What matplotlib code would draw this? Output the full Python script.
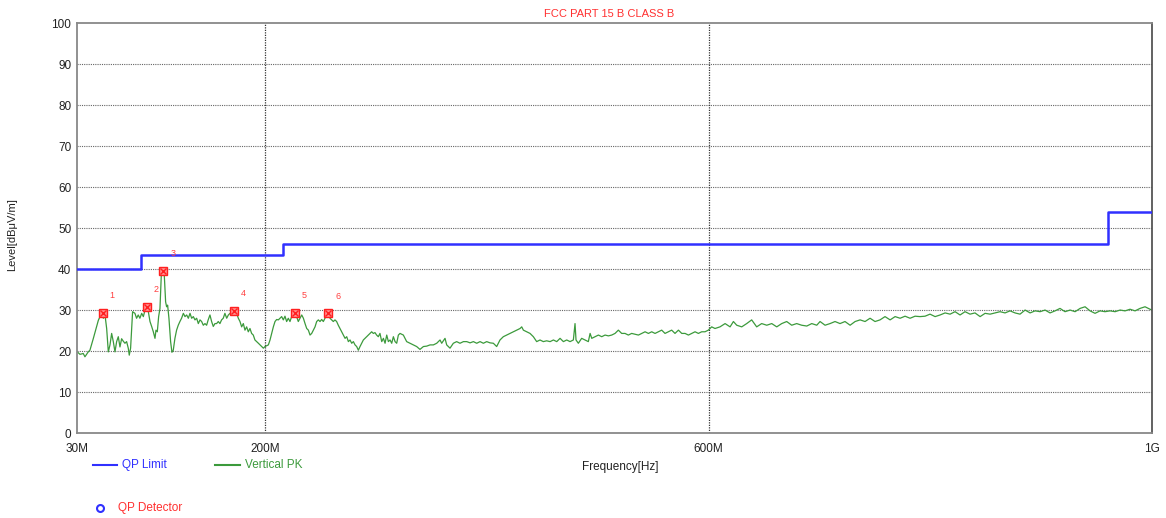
import numpy as np
import matplotlib
matplotlib.use("Agg")
from matplotlib import pyplot as plt
from matplotlib.lines import Line2D

plt.rcParams['font.family'] = ['Liberation Sans', 'DejaVu Sans']

### Datos (MHz, dBuV/m) ###
limit_freq = [30, 88, 88, 216, 216, 960, 960, 1000]
limit_level = [40, 40, 43.5, 43.5, 46, 46, 54, 54]

pk_freq = [30.3, 32.7, 35.7, 37.2, 40.2, 41.7, 44.7, 47.7, 49.3, 50.8, 52.3, 53.8,
           55.3, 56.8, 58.3, 59.8, 61.3, 62.8, 64.3, 65.8, 67.3, 68.8, 70.3, 71.8,
           73.3, 74.8, 76.3, 77.2, 78.4, 80.2, 82.3, 83.8, 85.3, 86.8, 88.4, 89.9,
           91.4, 92.9, 94.4, 95.9, 97.4, 98.9, 100.4, 101.3, 102.5, 103.7, 104.9,
           106.1, 107.3, 108.8, 110.0, 110.9, 111.8, 113.0, 114.5, 115.7, 116.9,
           118.4, 119.9, 121.4, 122.9, 124.4, 126.0, 127.5, 129.0, 130.5, 132.0,
           133.5, 135.0, 136.5, 138.0, 139.5, 141.0, 142.5, 144.0, 145.5, 147.0,
           148.4, 150.0, 151.5, 153.0, 154.5, 156.0, 157.5, 159.0, 160.5, 162.0,
           163.5, 165.1, 166.6, 168.1, 171.1,
           172.6, 174.1, 175.6, 177.1, 178.6, 180.1, 181.6, 183.1, 184.6, 186.1,
           187.6, 189.1, 190.6, 192.2, 193.7, 195.2, 196.7, 198.2, 199.7, 201.2,
           202.7, 204.2, 205.7, 207.2, 208.7, 210.2, 211.7, 213.2, 214.7, 216.2,
           217.7, 219.2, 220.7, 222.2, 223.7, 225.2, 226.7, 228.2, 229.7, 231.3,
           232.8, 234.3, 235.8, 237.3, 238.8, 240.3, 241.8, 243.3, 244.8, 246.3,
           247.8, 249.3, 250.8, 252.3, 253.8, 255.3, 256.8, 258.3, 259.8, 261.3,
           262.8, 264.3, 265.8, 267.3, 268.9, 270.4, 271.9, 273.4, 274.9, 276.4,
           277.9, 279.4, 280.9, 282.4, 283.9, 285.4, 286.9, 288.4, 289.9, 291.4,
           292.9, 294.4, 295.9, 297.4, 298.9, 300.4, 301.9, 303.4, 305.0, 306.5,
           308.0, 309.5, 311.0, 312.5, 314.0, 315.5, 317.0, 318.5, 320.0,
           321.5, 324.5, 326.0, 327.5, 330.5, 333.5, 336.5, 339.5, 342.6, 345.6,
           348.6, 351.6, 354.6, 357.6, 359.1, 362.1, 363.6, 366.6, 369.6, 372.6,
           375.6, 378.7, 381.7, 384.7, 387.7, 390.7, 393.7, 396.7, 399.7, 402.7,
           405.7, 408.7, 411.7, 414.7, 417.7, 420.8, 423.8, 426.8, 429.8, 431.3,
           432.8, 435.8, 438.8, 441.8, 444.8, 447.8, 450.8, 453.8, 456.9, 459.9,
           462.9, 465.9, 468.9, 471.9, 474.9, 477.9, 479.4, 480.3, 482.4, 485.4,
           488.4, 491.4, 493.0, 494.5, 497.5, 500.5, 503.5, 506.5, 509.5, 512.5,
           515.5, 518.5, 521.5, 524.5, 527.5, 530.5, 533.5, 536.6, 539.6, 542.6,
           545.6, 548.6, 551.6, 554.6, 557.6, 560.6, 563.6, 566.6, 569.6, 572.7,
           575.7, 578.7, 581.7, 584.7, 587.7, 590.7,
           593.7, 596.7, 599.7, 602.7, 605.7, 610.2, 614.8, 619.3, 622.3, 625.3,
           629.8, 634.3, 638.8, 643.3, 647.8, 652.4, 656.9, 661.4, 665.9, 670.4,
           674.9, 679.4, 683.9, 688.5, 693.0, 697.5, 700.5, 705.0, 709.5, 714.0,
           718.5, 723.0, 727.6, 732.1, 736.6, 741.1, 745.6, 750.1, 754.6, 759.1,
           763.7, 768.2, 772.7, 777.2, 781.7, 786.2, 790.7, 795.2, 799.7, 804.3,
           808.8, 813.3, 817.8, 822.3, 826.8, 831.3, 835.8, 840.3, 844.9, 849.4,
           853.9, 858.4, 862.9, 867.4, 871.9, 876.4, 880.9, 885.5, 890.0, 894.5,
           899.0, 903.5, 908.0, 912.5, 917.0, 921.5, 926.1, 930.6, 935.1, 939.6,
           944.1, 948.6, 953.1, 957.6, 962.2, 966.7, 971.2, 975.7, 980.2, 984.7,
           989.2, 993.7, 998.2, 1000.0]

pk_level = [19.8, 19.2, 19.4, 18.6, 19.8, 20.2, 23.0, 26.0, 27.5, 28.4, 29.2, 28.0,
            28.8, 25.5, 19.8, 21.5, 24.3, 22.3, 19.8, 22.3, 23.5, 21.0, 23.0, 22.4,
            21.9, 22.3, 20.7, 19.0, 20.7, 29.6, 29.2, 28.0, 28.8, 28.0, 29.2, 28.4,
            30.0, 30.8, 29.6, 27.2, 26.0, 24.7, 23.1, 25.1, 24.7, 28.4, 30.4,
            38.5, 39.8, 38.5, 32.0, 30.8, 31.2, 28.0, 22.3, 19.7, 20.2,
            23.1, 25.1, 26.3, 27.2, 28.0, 29.2, 28.4, 28.8, 28.0, 29.2,
            28.0, 28.4, 27.6, 28.0, 26.7, 27.6, 27.2, 26.3, 26.7, 26.3,
            27.6, 28.8, 27.2, 26.0, 26.7, 26.7, 27.2, 26.7, 27.6, 28.0,
            29.2, 28.0, 28.8, 29.2, 29.6,
            30.0, 29.2, 28.0, 27.2, 25.9, 26.7, 25.1, 25.9, 24.7, 25.5,
            24.3, 23.9, 22.7, 22.3, 21.9, 21.5, 21.1, 20.7, 21.1, 21.3,
            21.5, 22.7, 24.3, 25.9, 27.2, 27.7, 27.6, 28.0, 28.4, 27.6,
            28.5, 27.2, 28.0, 27.2, 28.4, 28.8, 29.4, 28.4, 27.2, 28.0,
            28.8, 28.0, 26.7, 25.5, 25.1, 23.9, 24.3, 25.1, 25.9, 27.2,
            27.6, 27.2, 27.7, 27.2, 28.0, 28.8, 29.2, 28.0, 27.6, 27.2,
            27.6, 27.2, 26.3, 25.5, 24.7, 23.9, 23.1, 23.5, 22.3, 22.7,
            21.9, 22.3, 21.5, 21.1, 20.2, 21.1, 21.9, 22.7, 23.1, 23.5,
            23.9, 24.3, 24.7, 24.3, 24.5, 23.9, 23.5, 24.3, 22.3, 23.1,
            21.9, 23.9, 22.3, 22.7, 21.9, 23.5, 22.3, 21.9, 23.9,
            24.3, 23.9, 23.1, 22.3, 21.9, 21.5, 21.1, 20.4, 21.1, 21.2,
            21.5, 21.5, 21.9, 22.7, 21.9, 23.1, 21.5, 20.7, 21.9, 22.3,
            21.9, 22.3, 22.3, 22.0, 22.3, 21.9, 22.3, 21.9, 22.3, 22.0,
            21.9, 21.1, 22.7, 23.5, 23.9, 24.3, 24.7, 25.1, 25.5, 25.9,
            25.1, 24.7, 24.3, 23.5, 22.3, 22.7, 22.3, 22.5, 22.3, 22.7,
            22.3, 23.1, 22.3, 22.7, 22.3, 22.7, 26.7, 22.7, 21.9, 23.1,
            22.7, 22.3, 24.3, 23.1, 23.5, 23.9, 23.5, 23.9, 23.7, 23.9,
            24.3, 25.1, 24.3, 24.3, 23.9, 24.3, 24.1, 23.9, 24.3, 24.7,
            24.3, 24.7, 24.3, 24.7, 25.1, 24.3, 24.7, 25.1, 24.3, 25.1,
            24.3, 24.3, 23.9, 24.3, 24.7, 24.3,
            24.7, 24.7, 25.1, 25.9, 25.5, 25.9, 26.7, 25.9, 27.2, 26.3,
            25.9, 26.7, 27.6, 25.9, 26.7, 26.3, 26.7, 25.9, 26.7, 27.2,
            26.3, 26.7, 26.3, 26.1, 26.7, 26.3, 27.2, 26.3, 26.7, 27.2,
            26.7, 27.2, 26.3, 27.2, 27.6, 27.2, 28.0, 27.2, 27.6, 28.4,
            27.6, 28.4, 28.0, 28.5, 28.0, 28.5, 28.4, 28.5, 29.0, 28.4,
            28.8, 29.3, 29.0, 29.6, 28.8, 29.6, 29.0, 29.3, 28.4, 29.2,
            29.0, 29.3, 29.6, 29.3, 29.8, 29.3, 29.0, 30.0, 29.3, 29.8,
            29.6, 30.0, 29.3, 29.8, 30.4, 29.6, 30.0, 29.6, 30.4, 30.8,
            29.8, 29.2, 29.8, 29.6, 29.8, 29.6, 30.0, 29.8, 30.2, 29.8,
            30.4, 30.8, 30.2, 30.0]

# Marcadores (picos)
mk_freq = [53.2, 92.9, 107.9, 171.7, 226.7, 256.8]
mk_level = [29.3, 30.8, 39.6, 29.8, 29.4, 29.2]
mk_labels = ['1', '2', '3', '4', '5', '6']

xtick_vals = [30, 200, 600, 1000]
xtick_labels = ['30M', '200M', '600M', '1G']
ytick_vals = list(range(0, 101, 10))

### Grafico ###
fig = plt.figure(figsize=(11.66, 5.18), dpi=100)
ax = fig.add_axes([0.066, 0.164, 0.922, 0.7915])

ax.set_xlim(30, 1000)
ax.set_ylim(0, 100)
ax.set_xticks(xtick_vals)
ax.set_xticklabels(xtick_labels)
ax.set_yticks(ytick_vals)
ax.tick_params(length=0, labelsize=8.5, colors='#222222')
ax.tick_params(axis='x', pad=7)
ax.tick_params(axis='y', pad=4)

for y in range(10, 100, 10):
    ax.axhline(y, color='#666666', linestyle=(0, (1, 1)), linewidth=0.8, zorder=1)
for x in [200, 600]:
    ax.axvline(x, color='#333333', linestyle=(0, (1, 1)), linewidth=0.9, zorder=1)

for s in ax.spines.values():
    s.set_color('#888888')
    s.set_linewidth(1.3)
ax.spines['right'].set_color('#555555')

ax.plot(limit_freq, limit_level, color='#3030ff', linewidth=1.8, zorder=3)
ax.plot(pk_freq, pk_level, color='#3c9a3c', linewidth=0.9, zorder=2)

ax.plot(mk_freq, mk_level, 's', ms=6, mfc='#ff9090', mec='#ff2020', mew=1.0, zorder=4)
ax.plot(mk_freq, mk_level, 'x', ms=4.5, color='#ff2020', mew=1.0, zorder=5)
for f, l, t in zip(mk_freq, mk_level, mk_labels):
    ax.annotate(t, (f, l), xytext=(5, 9), textcoords='offset points',
                color='#ff4040', fontsize=6.5, ha='left', va='bottom')

fig.text(609 / 1166, 1 - 14 / 518, 'FCC PART 15 B CLASS B', color='#ff3030',
         fontsize=8, ha='center', va='center')
fig.text(620 / 1166, 1 - 467 / 518, 'Frequency[Hz]', color='#222222',
         fontsize=8.5, ha='center', va='center')
fig.text(12 / 1166, 1 - 235 / 518, u'Level[dBμV/m]', color='#222222',
         fontsize=8, ha='center', va='center', rotation=90)

# Leyenda manual
fig.add_artist(Line2D([93 / 1166, 117 / 1166], [1 - 465 / 518] * 2,
                      color='#3030ff', linewidth=1.5))
fig.text(122 / 1166, 1 - 465 / 518, 'QP Limit', color='#3030ff',
         fontsize=8.5, va='center')
fig.add_artist(Line2D([215 / 1166, 240 / 1166], [1 - 465 / 518] * 2,
                      color='#3c9a3c', linewidth=1.5))
fig.text(245 / 1166, 1 - 465 / 518, 'Vertical PK', color='#3c9a3c',
         fontsize=8.5, va='center')
fig.add_artist(Line2D([100 / 1166], [1 - 508 / 518], marker='o', ms=5,
                      mfc='none', mec='#3030ff', mew=1.5, linestyle='none'))
fig.text(118 / 1166, 1 - 508 / 518, 'QP Detector', color='#ff3030',
         fontsize=8.5, va='center')

plt.savefig('out.png', dpi=100)
